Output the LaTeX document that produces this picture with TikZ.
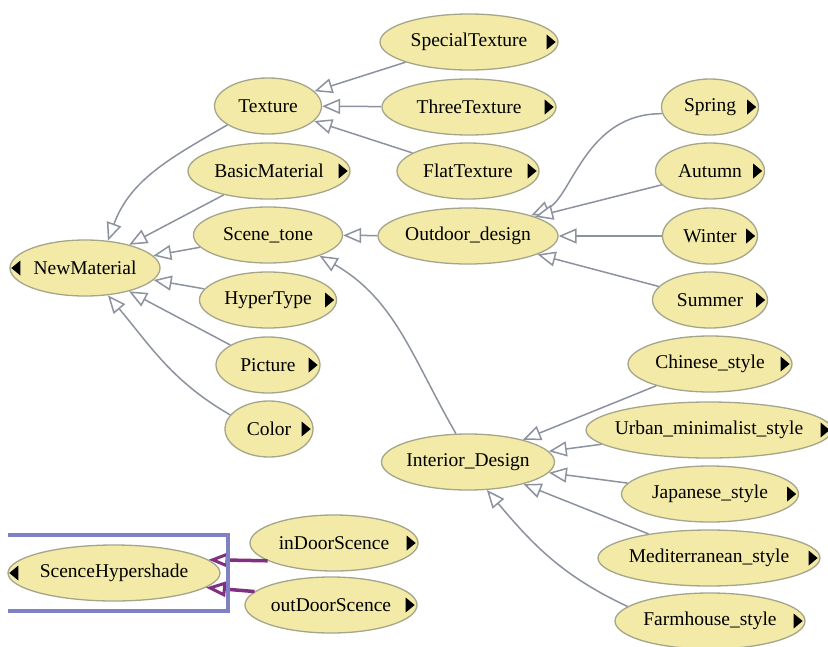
\documentclass[tikz,border=0pt]{standalone}
\usepackage{fontspec}
\setmainfont{Liberation Serif}
\newfontfamily\nodefont{Liberation Serif}
\usetikzlibrary{shapes.geometric,arrows.meta}
\definecolor{nodefill}{RGB}{242,234,166}
\definecolor{nodeborder}{RGB}{165,165,140}
\definecolor{edgegray}{RGB}{140,146,158}
\definecolor{boxblue}{RGB}{128,128,196}
\definecolor{linkpurple}{RGB}{128,48,128}
\newcommand\nodetriR[1]{\fill[black] ([xshift=-3pt]#1.east) -- ++(-9,-7.5) -- ++(0,15) -- cycle;}
\newcommand\nodetriL[1]{\fill[black] ([xshift=2pt]#1.west) -- ++(9,-7.5) -- ++(0,15) -- cycle;}
\newcommand\lbl[1]{\makebox[0pt]{#1}}
\begin{document}
\begin{tikzpicture}[x=1pt,y=-1pt,
  cls/.style={ellipse, draw=nodeborder, line width=1.3pt, fill=nodefill,
    minimum height=56pt, inner sep=0pt, font=\nodefont\fontsize{19.5}{22}\selectfont},
  gen/.style={draw=edgegray, line width=1.5pt,
    -{Triangle[length=18pt,width=15pt,fill=white,line width=1.5pt]}},
  hyp/.style={draw=linkpurple, line width=3.5pt,
    -{Triangle[length=20pt,width=15pt,fill=white,line width=3pt]}},
]
\fill[white] (0,0) rectangle (828,646);
\useasboundingbox (0,0) rectangle (828,646);

% nodes
\node[cls,minimum width=178pt] (SpecialTexture) at (469,42) {\lbl{SpecialTexture}};
\node[cls,minimum width=174pt] (ThreeTexture) at (469,107) {\lbl{ThreeTexture}};
\node[cls,minimum width=142pt] (FlatTexture) at (468,171) {\lbl{FlatTexture}};
\node[cls,minimum width=107pt] (Texture) at (268,106) {\lbl{Texture}};
\node[cls,minimum width=162pt] (BasicMaterial) at (269,171) {\lbl{BasicMaterial}};
\node[cls,minimum width=149pt] (SceneTone) at (268,235) {\lbl{Scene\_tone}};
\node[cls,minimum width=150pt] (NewMaterial) at (85,268) {\lbl{NewMaterial}};
\node[cls,minimum width=137pt] (HyperType) at (268,300) {\lbl{HyperType}};
\node[cls,minimum width=104pt] (Picture) at (268,365) {\lbl{Picture}};
\node[cls,minimum width=88pt] (Color) at (269,429) {\lbl{Color}};
\node[cls,minimum width=180pt] (Outdoor) at (468,236) {\lbl{Outdoor\_design}};
\node[cls,minimum width=97pt] (Spring) at (710,107) {\lbl{Spring}};
\node[cls,minimum width=109pt] (Autumn) at (710,171) {\lbl{Autumn}};
\node[cls,minimum width=95pt] (Winter) at (710,236) {\lbl{Winter}};
\node[cls,minimum width=115pt] (Summer) at (710,300) {\lbl{Summer}};
\node[cls,minimum width=173pt] (Interior) at (468,462) {\lbl{Interior\_Design}};
\node[cls,minimum width=164pt] (Chinese) at (710,364) {\lbl{Chinese\_style}};
\node[cls,minimum width=246pt] (Urban) at (709,430) {\lbl{Urban\_minimalist\_style}};
\node[cls,minimum width=177pt] (Japanese) at (710,494) {\lbl{Japanese\_style}};
\node[cls,minimum width=222pt] (Mediterranean) at (709,558) {\lbl{Mediterranean\_style}};
\node[cls,minimum width=190pt] (Farmhouse) at (710,621) {\lbl{Farmhouse\_style}};
\node[cls,minimum width=212pt] (Hypershade) at (114,573) {\lbl{ScenceHypershade}};
\node[cls,minimum width=168pt] (inDoor) at (334,543) {\lbl{inDoorScence}};
\node[cls,minimum width=172pt] (outDoor) at (331,605) {\lbl{outDoorScence}};

% markers
\nodetriR{SpecialTexture}\nodetriR{ThreeTexture}\nodetriR{FlatTexture}
\nodetriR{BasicMaterial}\nodetriR{HyperType}\nodetriR{Picture}\nodetriR{Color}
\nodetriR{Spring}\nodetriR{Autumn}\nodetriR{Winter}\nodetriR{Summer}
\nodetriR{Chinese}\nodetriR{Urban}\nodetriR{Japanese}\nodetriR{Mediterranean}
\nodetriR{Farmhouse}\nodetriR{inDoor}\nodetriR{outDoor}
\nodetriL{NewMaterial}\nodetriL{Hypershade}

% generalisation edges
\draw[gen] (SpecialTexture) -- (Texture);
\draw[gen] (ThreeTexture) -- (Texture);
\draw[gen] (FlatTexture) -- (Texture);
\draw[gen] (Texture.205) to[out=210,in=70] (NewMaterial.50);
\draw[gen] (BasicMaterial) -- (NewMaterial);
\draw[gen] (SceneTone) -- (NewMaterial);
\draw[gen] (HyperType) -- (NewMaterial);
\draw[gen] (Picture) -- (NewMaterial);
\draw[gen] (Color.160) to[out=150,in=-50] (NewMaterial.-50);
\draw[gen] (Outdoor) -- (SceneTone);
\draw[gen] (Interior.113) to[out=120,in=-30] (SceneTone.-22);
\draw[gen] (Spring.188) .. controls (585,113) and (572,198) .. (Outdoor.18);
\draw[gen] (Autumn.196) -- (Outdoor.16);
\draw[gen] (Winter) -- (Outdoor);
\draw[gen] (Summer) -- (Outdoor);
\draw[gen] (Chinese) -- (Interior);
\draw[gen] (Urban) -- (Interior);
\draw[gen] (Japanese) -- (Interior);
\draw[gen] (Mediterranean) -- (Interior);
\draw[gen] (Farmhouse.170) to[out=155,in=-50] (Interior.-56);

% hypershade links and frame
\draw[hyp] (inDoor.195) -- (Hypershade.8);
\draw[hyp] (outDoor.170) -- (Hypershade.-9);
\draw[boxblue, line width=4pt] (8,535) -- (228,535) -- (228,611) -- (8,611);
\end{tikzpicture}
\end{document}
